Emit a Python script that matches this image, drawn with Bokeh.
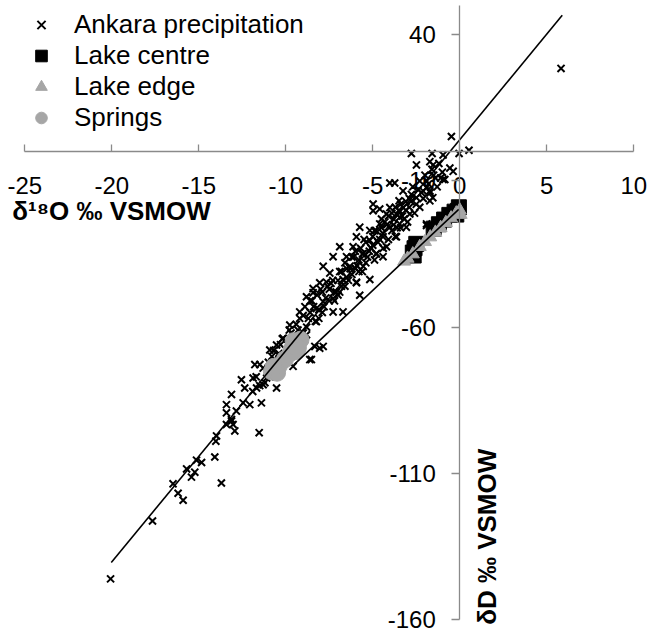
from bokeh.plotting import figure
from bokeh.models import LinearAxis, FixedTicker, Label, Legend, LegendItem, Range1d
from bokeh.embed import file_html
from bokeh.resources import INLINE
import math

# ---------------- data ----------------
precip_x = [
    -20.07, -17.66, -16.48, -16.19, -15.90, -15.70, -15.42, -15.23, -15.13, -14.84,
    -13.70, -14.08, -14.02, -13.98, -13.41, -12.93, -11.53, -13.12, -13.41, -13.03,
    -13.12, -12.55, -12.45, -12.07, -11.68, -11.40, -11.78, -11.10, -10.53, -10.92,
    -10.63, -9.58, -9.39, -8.62, -8.33, -7.85, -9.77, -9.20, -8.81, -8.43,
    -7.66, -6.90, -7.28, -7.85, -8.24, -7.28, -6.71, -5.75, -5.94, -8.24,
    -8.81, -10.15, -10.53, -8.05, -8.53, -11.88, -11.30, -12.36, -13.41, -12.84,
    -13.12, -11.49,
    -2.78, -2.49, -1.72, -4.02, -3.26, -2.78, -2.49, -3.49, -4.02, -4.60,
    -4.98, -4.21, -3.64, -3.26, -2.87, -3.45, -4.02, -4.60, -5.17, -5.75,
    -5.94, -5.17, -4.41, -3.64, -4.21, -4.79, -5.55, -6.13, -6.51, -6.90,
    -7.28, -6.32, -5.55, -5.17, -5.94, -6.71, -7.47, -7.85, -8.05, -8.43,
    -4.41, -4.98, -1.91,
    -11.9, -11.7, -11.5, -11.3, -11.0, -10.9, -10.7, -10.4, -10.2, -10.0,
    -9.8, -9.6, -9.4, -9.1, -9.0, -8.8, -8.6, -8.5, -8.3, -8.1,
    -8.0, -7.9, -7.7, -7.5, -7.4, -7.2, -7.0, -7.1, -6.8, -6.6,
    -6.5, -6.4, -6.2, -6.1, -6.0, -5.8, -5.7, -5.6, -5.4, -5.3,
    -5.1, -5.0, -4.9, -4.8, -4.7, -4.5, -4.4, -4.3, -4.1, -3.9,
    -3.8, -3.7, -3.6, -3.4, -3.3, -3.1, -3.0, -2.9, -2.7, -2.5,
    -2.3, -2.2, -2.0, -1.8, -1.6, -1.4, -1.2, -1.0,
    -1.59, -0.96, -0.04, 0.53, -0.48, -1.53, -0.57, -0.38, -0.96, -1.72,
    -0.86, -1.55, -1.91, -3.74, -2.11, -1.72, -3.45, -3.07, -1.91,
    5.82,
    -11.2, -11.0, -10.8, -10.6, -10.4, -10.3, -10.1, -9.9, -9.7, -9.5,
    -9.3, -9.2, -9.0, -8.9, -8.7, -8.6, -8.4, -8.2, -8.1, -7.9,
    -7.8, -7.6, -7.5, -7.3, -7.2, -7.0, -6.9, -6.8, -6.6, -6.5,
    -6.3, -6.2, -6.0, -5.9, -5.8, -5.6, -5.5, -5.4, -5.2, -5.0,
    -4.9, -4.8, -4.6, -4.5, -4.4, -4.2, -4.1, -3.9, -3.8, -3.7,
    -3.5, -3.4, -3.2, -3.1, -2.9, -2.8, -2.6, -2.4, -2.3, -2.1,
    -1.9, -1.7, -1.5, -1.3, -1.1,
]
precip_y = [
    -146.1, -126.3, -113.6, -116.8, -119.2, -108.5, -111.3, -109.6, -105.5, -106.3,
    -113.3, -104.4, -99.0, -97.2, -93.3, -95.5, -96.1, -91.6, -89.3, -93.3,
    -83.0, -78.0, -85.9, -86.5, -80.8, -85.9, -72.8, -77.4, -80.8, -67.8,
    -71.1, -73.4, -66.6, -71.1, -66.6, -66.6, -59.3, -54.8, -49.6, -46.8,
    -44.6, -48.0, -50.2, -51.3, -53.6, -54.8, -54.8, -49.1, -44.6, -58.1,
    -62.6, -63.8, -66.1, -67.2, -71.1, -77.4, -79.7, -80.8, -86.5, -88.7,
    -92.1, -72.8,
    -0.6, -4.5, -3.4, -10.7, -13.4, -14.6, -15.7, -16.8, -19.1, -19.6,
    -20.2, -21.3, -21.3, -19.1, -21.3, -24.7, -25.8, -24.7, -26.9, -25.8,
    -29.1, -30.3, -29.1, -29.1, -32.5, -34.8, -34.8, -32.5, -35.9, -32.5,
    -35.9, -39.2, -39.2, -43.7, -44.8, -43.7, -41.5, -39.2, -44.8, -48.2,
    -35.9, -17.9, -24.7,
    -82, -77, -80, -74, -72, -77, -68, -73, -64, -70,
    -61, -67, -59, -64, -56, -60, -55, -51, -58, -54,
    -47, -55, -50, -47, -45, -51, -44, -48, -41, -46,
    -40, -44, -42, -36, -40, -37, -33, -41, -31, -36,
    -33, -29, -37, -27, -31, -26, -33, -24, -22, -27,
    -23, -19, -26, -18, -22, -17, -24, -16, -12, -18,
    -10, -14, -8, -11, -6, -9, -4, -7,
    -0.6, -1.1, -0.6, 0.5, 5.2, -4.5, -5.6, -6.7, -9.5, -13.4,
    -9.5, -15.7, -12.3, -10.7, -13.4, -16.8, -22.4, -25.8, -25.2,
    28.5,
    -79, -75, -70, -75, -69, -66, -72, -66, -62, -63,
    -61, -57, -62, -53, -57, -51, -53, -49, -57, -48,
    -53, -46, -51, -44, -48, -49, -41, -46, -38, -43,
    -40, -36, -34, -39, -41, -35, -30, -38, -34, -32,
    -27, -35, -30, -23, -28, -25, -30, -21, -25, -29,
    -20, -26, -23, -20, -19, -17, -21, -13, -19, -16,
    -10, -14, -8, -12, -9,
]

centre_x = [-0.05, -0.1, -0.2, -0.3, -0.6, -0.9, -1.2, -1.5, -2.5, -2.6, -2.7, -2.65]
centre_y = [-19.0, -20.2, -21.5, -20.5, -21.6, -23.2, -24.8, -26.3, -31.5, -33.0, -34.5, -35.5]

edge_x = [-3.2, -3.0, -2.7, -2.3, -2.0, -1.7, -1.4, -1.1, -0.8, -0.5, -0.2, 0.0, 0.05]
edge_y = [-37.5, -36.5, -35.0, -32.5, -30.8, -29.2, -27.6, -26.0, -24.3, -22.7, -21.0, -20.0, -21.5]

springs_x = [-9.15, -9.3, -9.5, -9.65, -9.72, -9.3, -9.55, -9.4,
             -10.05, -10.4, -10.6, -10.8, -10.5, -10.7]
springs_y = [-64.3, -65.0, -66.0, -67.5, -68.8, -67.0, -64.8, -68.2,
             -71.0, -73.3, -74.0, -75.2, -75.6, -73.6]

lmwl_x = [-20.03, 5.89]
lmwl_y = [-140.5, 46.65]

evap_x = [-9.54, -0.06]
evap_y = [-72.9, -19.7]

x_ticks = [-25, -20, -15, -10, -5, 0, 5, 10]
y_ticks = [40, -10, -60, -110, -160]

# ---------------- figure ----------------
FONT = "Liberation Sans"
AXIS_GREY = "#8a8a8a"
MARK_GREY = "#a6a6a6"

p = figure(width=647, height=635,
           x_range=Range1d(-26.397, 10.79), y_range=Range1d(-165.47, 51.73),
           output_backend="svg", toolbar_location=None,
           x_axis_location=None, y_axis_location=None,
           min_border_left=0, min_border_right=0,
           min_border_top=0, min_border_bottom=0)
p.outline_line_color = None
p.background_fill_color = "white"
p.border_fill_color = "white"
p.grid.visible = False

xax = LinearAxis(fixed_location=0, ticker=FixedTicker(ticks=x_ticks),
                 bounds=(x_ticks[0], x_ticks[-1]))
xax.axis_line_color = AXIS_GREY
xax.axis_line_width = 1.3
xax.major_tick_line_color = AXIS_GREY
xax.major_tick_line_width = 1.3
xax.major_tick_in = 7
xax.major_tick_out = 0
xax.minor_tick_line_color = None
xax.major_label_overrides = {t: str(t) for t in x_ticks}
xax.major_label_text_font = FONT
xax.major_label_text_font_size = "24px"
xax.major_label_text_color = "black"
xax.major_label_standoff = 25
p.add_layout(xax, "below")

yax = LinearAxis(fixed_location=0, ticker=FixedTicker(ticks=y_ticks),
                 bounds=(y_ticks[-1], 50))
yax.axis_line_color = AXIS_GREY
yax.axis_line_width = 1.3
yax.major_tick_line_color = AXIS_GREY
yax.major_tick_line_width = 1.3
yax.major_tick_in = 0
yax.major_tick_out = 8
yax.minor_tick_line_color = None
yax.major_label_overrides = {t: str(t) for t in y_ticks}
yax.major_label_text_font = FONT
yax.major_label_text_font_size = "24px"
yax.major_label_text_color = "black"
yax.major_label_standoff = 16
p.add_layout(yax, "left")

r_p = p.scatter(precip_x, precip_y, marker="x", size=10, line_color="black", line_width=2)
r_c = p.scatter(centre_x, centre_y, marker="square", size=15, fill_color="black", line_color="black")
r_e = p.scatter(edge_x, edge_y, marker="triangle", size=13, fill_color=MARK_GREY, line_color=MARK_GREY)
r_s = p.scatter(springs_x, springs_y, marker="circle", size=17, fill_color=MARK_GREY, line_color=MARK_GREY)

p.line(lmwl_x, lmwl_y, line_color="black", line_width=1.6)
p.line(evap_x, evap_y, line_color="black", line_width=1.6)

legend = Legend(items=[
    LegendItem(label="Ankara precipitation", renderers=[r_p]),
    LegendItem(label="Lake centre", renderers=[r_c]),
    LegendItem(label="Lake edge", renderers=[r_e]),
    LegendItem(label="Springs", renderers=[r_s]),
], location="top_left", orientation="vertical")
legend.border_line_color = None
legend.background_fill_alpha = 0
legend.label_text_font = FONT
legend.label_text_font_size = "26px"
legend.label_text_color = "black"
legend.glyph_width = 64
legend.glyph_height = 29
legend.label_height = 29
legend.spacing = -2
legend.padding = 10
legend.margin = 9
legend.label_standoff = 1
p.add_layout(legend)

p.add_layout(Label(x=-25.72, y=-20.24, text="δ¹⁸O ‰ VSMOW",
                   text_font=FONT, text_font_style="bold", text_font_size="26px",
                   text_align="left", text_baseline="middle", text_color="black"))
p.add_layout(Label(x=1.57, y=-131.7, text="δD ‰ VSMOW", angle=math.pi / 2,
                   text_font=FONT, text_font_style="bold", text_font_size="26px",
                   text_align="center", text_baseline="middle", text_color="black"))

open("out.html", "w").write(file_html(p, INLINE))
